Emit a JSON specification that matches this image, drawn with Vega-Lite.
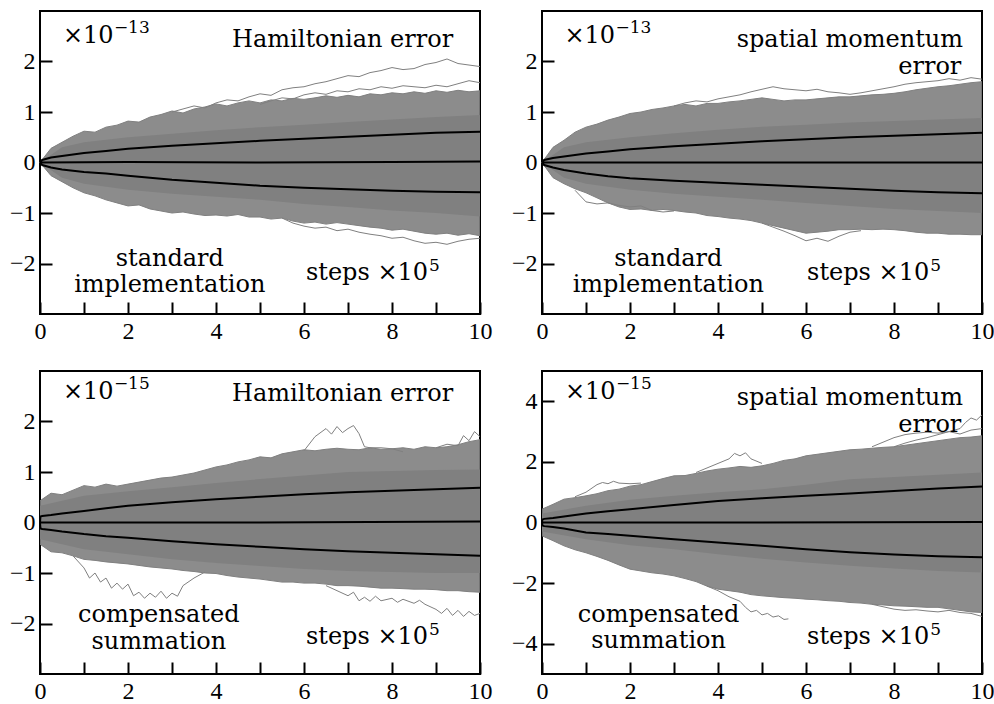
{
"$schema": "https://vega.github.io/schema/vega-lite/v6.json",
"background": "white",
"padding": {"left": 8, "top": 10, "right": 0, "bottom": 0},
"config": {
  "view": {"stroke": "#000", "strokeWidth": 2},
  "axis": {"domain": false, "grid": false, "ticks": true, "tickColor": "#000", "tickWidth": 2, "tickSize": -12, "labelFont": "Liberation Serif, Times New Roman, serif", "labelFontSize": 24, "labelColor": "#000", "labelFlush": false, "labelOverlap": false, "labelBound": false},
  "axisX": {"labelPadding": 17},
  "axisY": {"labelPadding": 17},
  "text": {"font": "DejaVu Serif, serif", "color": "#000", "baseline": "alphabetic"},
  "line": {"clip": true},
  "area": {"clip": true}
},
"columns": 2,
"spacing": {"row": 26, "column": 17},
"datasets": {
"tl": [
{"k":"e","x":0,"lo":0,"hi":0},{"k":"e","x":0.25,"lo":-0.26,"hi":0.28},{"k":"e","x":0.5,"lo":-0.38,"hi":0.40},{"k":"e","x":0.75,"lo":-0.50,"hi":0.52},{"k":"e","x":1,"lo":-0.60,"hi":0.62},{"k":"e","x":1.25,"lo":-0.66,"hi":0.60},{"k":"e","x":1.5,"lo":-0.74,"hi":0.70},{"k":"e","x":1.75,"lo":-0.80,"hi":0.74},{"k":"e","x":2,"lo":-0.86,"hi":0.82},{"k":"e","x":2.25,"lo":-0.84,"hi":0.80},{"k":"e","x":2.5,"lo":-0.92,"hi":0.90},{"k":"e","x":2.75,"lo":-0.96,"hi":0.95},{"k":"e","x":3,"lo":-1.00,"hi":1.02},{"k":"e","x":3.25,"lo":-0.98,"hi":0.98},{"k":"e","x":3.5,"lo":-1.02,"hi":1.06},{"k":"e","x":3.75,"lo":-1.05,"hi":1.10},{"k":"e","x":4,"lo":-1.04,"hi":1.16},{"k":"e","x":4.25,"lo":-1.06,"hi":1.12},{"k":"e","x":4.5,"lo":-1.03,"hi":1.18},{"k":"e","x":4.75,"lo":-1.08,"hi":1.22},{"k":"e","x":5,"lo":-1.08,"hi":1.18},{"k":"e","x":5.25,"lo":-1.12,"hi":1.24},{"k":"e","x":5.5,"lo":-1.10,"hi":1.22},{"k":"e","x":5.75,"lo":-1.16,"hi":1.27},{"k":"e","x":6,"lo":-1.20,"hi":1.25},{"k":"e","x":6.25,"lo":-1.18,"hi":1.28},{"k":"e","x":6.5,"lo":-1.22,"hi":1.32},{"k":"e","x":6.75,"lo":-1.19,"hi":1.29},{"k":"e","x":7,"lo":-1.22,"hi":1.33},{"k":"e","x":7.25,"lo":-1.25,"hi":1.30},{"k":"e","x":7.5,"lo":-1.28,"hi":1.36},{"k":"e","x":7.75,"lo":-1.30,"hi":1.34},{"k":"e","x":8,"lo":-1.34,"hi":1.38},{"k":"e","x":8.25,"lo":-1.32,"hi":1.36},{"k":"e","x":8.5,"lo":-1.36,"hi":1.40},{"k":"e","x":8.75,"lo":-1.40,"hi":1.37},{"k":"e","x":9,"lo":-1.42,"hi":1.42},{"k":"e","x":9.25,"lo":-1.40,"hi":1.39},{"k":"e","x":9.5,"lo":-1.44,"hi":1.43},{"k":"e","x":9.75,"lo":-1.41,"hi":1.40},{"k":"e","x":10,"lo":-1.45,"hi":1.42},
{"k":"c","x":0,"lo":0,"hi":0},{"k":"c","x":0.5,"lo":-0.3,"hi":0.3},{"k":"c","x":1,"lo":-0.42,"hi":0.4},{"k":"c","x":2,"lo":-0.54,"hi":0.5},{"k":"c","x":3,"lo":-0.62,"hi":0.57},{"k":"c","x":4,"lo":-0.68,"hi":0.64},{"k":"c","x":5,"lo":-0.74,"hi":0.7},{"k":"c","x":6,"lo":-0.82,"hi":0.75},{"k":"c","x":7,"lo":-0.88,"hi":0.8},{"k":"c","x":8,"lo":-0.95,"hi":0.85},{"k":"c","x":9,"lo":-1.0,"hi":0.9},{"k":"c","x":10,"lo":-1.07,"hi":0.94},
{"k":"o","id":"a","x":3,"y":1.00},{"k":"o","id":"a","x":3.25,"y":1.06},{"k":"o","id":"a","x":3.5,"y":1.12},{"k":"o","id":"a","x":3.75,"y":1.08},{"k":"o","id":"a","x":4,"y":1.18},{"k":"o","id":"a","x":4.25,"y":1.24},{"k":"o","id":"a","x":4.5,"y":1.22},{"k":"o","id":"a","x":4.75,"y":1.30},{"k":"o","id":"a","x":5,"y":1.36},{"k":"o","id":"a","x":5.25,"y":1.33},{"k":"o","id":"a","x":5.5,"y":1.44},{"k":"o","id":"a","x":5.75,"y":1.48},{"k":"o","id":"a","x":6,"y":1.50},{"k":"o","id":"a","x":6.25,"y":1.56},{"k":"o","id":"a","x":6.5,"y":1.60},{"k":"o","id":"a","x":6.75,"y":1.66},{"k":"o","id":"a","x":7,"y":1.72},{"k":"o","id":"a","x":7.25,"y":1.70},{"k":"o","id":"a","x":7.5,"y":1.78},{"k":"o","id":"a","x":7.75,"y":1.82},{"k":"o","id":"a","x":8,"y":1.88},{"k":"o","id":"a","x":8.25,"y":1.84},{"k":"o","id":"a","x":8.5,"y":1.86},{"k":"o","id":"a","x":8.75,"y":1.94},{"k":"o","id":"a","x":9,"y":1.98},{"k":"o","id":"a","x":9.25,"y":2.05},{"k":"o","id":"a","x":9.5,"y":1.96},{"k":"o","id":"a","x":9.75,"y":1.93},{"k":"o","id":"a","x":10,"y":1.90},
{"k":"o","id":"b","x":5,"y":1.15},{"k":"o","id":"b","x":5.25,"y":1.22},{"k":"o","id":"b","x":5.5,"y":1.28},{"k":"o","id":"b","x":5.75,"y":1.26},{"k":"o","id":"b","x":6,"y":1.34},{"k":"o","id":"b","x":6.25,"y":1.38},{"k":"o","id":"b","x":6.5,"y":1.35},{"k":"o","id":"b","x":6.75,"y":1.42},{"k":"o","id":"b","x":7,"y":1.40},{"k":"o","id":"b","x":7.25,"y":1.46},{"k":"o","id":"b","x":7.5,"y":1.44},{"k":"o","id":"b","x":7.75,"y":1.50},{"k":"o","id":"b","x":8,"y":1.47},{"k":"o","id":"b","x":8.25,"y":1.52},{"k":"o","id":"b","x":8.5,"y":1.50},{"k":"o","id":"b","x":8.75,"y":1.48},{"k":"o","id":"b","x":9,"y":1.53},{"k":"o","id":"b","x":9.25,"y":1.50},{"k":"o","id":"b","x":9.5,"y":1.56},{"k":"o","id":"b","x":9.75,"y":1.62},{"k":"o","id":"b","x":10,"y":1.58},
{"k":"o","id":"c","x":5.5,"y":-1.10},{"k":"o","id":"c","x":5.75,"y":-1.20},{"k":"o","id":"c","x":6,"y":-1.26},{"k":"o","id":"c","x":6.25,"y":-1.30},{"k":"o","id":"c","x":6.5,"y":-1.28},{"k":"o","id":"c","x":6.75,"y":-1.35},{"k":"o","id":"c","x":7,"y":-1.32},{"k":"o","id":"c","x":7.25,"y":-1.38},{"k":"o","id":"c","x":7.5,"y":-1.42},{"k":"o","id":"c","x":7.75,"y":-1.45},{"k":"o","id":"c","x":8,"y":-1.50},{"k":"o","id":"c","x":8.25,"y":-1.48},{"k":"o","id":"c","x":8.5,"y":-1.55},{"k":"o","id":"c","x":8.75,"y":-1.60},{"k":"o","id":"c","x":9,"y":-1.58},{"k":"o","id":"c","x":9.25,"y":-1.62},{"k":"o","id":"c","x":9.5,"y":-1.56},{"k":"o","id":"c","x":9.75,"y":-1.52},{"k":"o","id":"c","x":10,"y":-1.50},
{"k":"s","id":"up","x":0,"y":0},{"k":"s","id":"up","x":0.05,"y":0.05},{"k":"s","id":"up","x":0.25,"y":0.1},{"k":"s","id":"up","x":0.5,"y":0.13},{"k":"s","id":"up","x":1,"y":0.19},{"k":"s","id":"up","x":1.5,"y":0.23},{"k":"s","id":"up","x":2,"y":0.27},{"k":"s","id":"up","x":3,"y":0.33},{"k":"s","id":"up","x":4,"y":0.38},{"k":"s","id":"up","x":5,"y":0.43},{"k":"s","id":"up","x":6,"y":0.47},{"k":"s","id":"up","x":7,"y":0.51},{"k":"s","id":"up","x":8,"y":0.55},{"k":"s","id":"up","x":9,"y":0.59},{"k":"s","id":"up","x":10,"y":0.61},
{"k":"s","id":"dn","x":0,"y":0},{"k":"s","id":"dn","x":0.05,"y":-0.05},{"k":"s","id":"dn","x":0.25,"y":-0.1},{"k":"s","id":"dn","x":0.5,"y":-0.14},{"k":"s","id":"dn","x":1,"y":-0.19},{"k":"s","id":"dn","x":1.5,"y":-0.22},{"k":"s","id":"dn","x":2,"y":-0.26},{"k":"s","id":"dn","x":3,"y":-0.34},{"k":"s","id":"dn","x":4,"y":-0.4},{"k":"s","id":"dn","x":5,"y":-0.46},{"k":"s","id":"dn","x":6,"y":-0.5},{"k":"s","id":"dn","x":7,"y":-0.53},{"k":"s","id":"dn","x":8,"y":-0.56},{"k":"s","id":"dn","x":9,"y":-0.58},{"k":"s","id":"dn","x":10,"y":-0.59},
{"k":"s","id":"m","x":0,"y":0},{"k":"s","id":"m","x":2,"y":0.01},{"k":"s","id":"m","x":5,"y":0},{"k":"s","id":"m","x":8,"y":0.01},{"k":"s","id":"m","x":10,"y":0.02},
{"k":"L","x":0.52,"y":2.37,"t":"×10"},{"k":"P","x":0.52,"y":2.37,"t":"−13"},
{"k":"R","x":9.39,"y":2.29,"t":"Hamiltonian error"},{"k":"R","x":8.82,"y":-2.32,"t":"steps ×10"},{"k":"F","x":8.82,"y":-2.32,"t":"5"},
{"k":"C","x":2.95,"y":-2.05,"t":"standard"},{"k":"C","x":2.95,"y":-2.56,"t":"implementation"}
],
"tr": [
{"k":"e","x":0,"lo":0,"hi":0},{"k":"e","x":0.25,"lo":-0.30,"hi":0.30},{"k":"e","x":0.5,"lo":-0.42,"hi":0.44},{"k":"e","x":0.75,"lo":-0.52,"hi":0.60},{"k":"e","x":1,"lo":-0.60,"hi":0.70},{"k":"e","x":1.25,"lo":-0.70,"hi":0.76},{"k":"e","x":1.5,"lo":-0.80,"hi":0.84},{"k":"e","x":1.75,"lo":-0.88,"hi":0.90},{"k":"e","x":2,"lo":-0.93,"hi":0.97},{"k":"e","x":2.25,"lo":-0.92,"hi":1.00},{"k":"e","x":2.5,"lo":-0.95,"hi":1.05},{"k":"e","x":2.75,"lo":-0.93,"hi":1.08},{"k":"e","x":3,"lo":-0.95,"hi":1.12},{"k":"e","x":3.25,"lo":-0.98,"hi":1.15},{"k":"e","x":3.5,"lo":-1.00,"hi":1.12},{"k":"e","x":3.75,"lo":-1.05,"hi":1.17},{"k":"e","x":4,"lo":-1.07,"hi":1.17},{"k":"e","x":4.25,"lo":-1.10,"hi":1.20},{"k":"e","x":4.5,"lo":-1.12,"hi":1.22},{"k":"e","x":4.75,"lo":-1.15,"hi":1.25},{"k":"e","x":5,"lo":-1.20,"hi":1.28},{"k":"e","x":5.25,"lo":-1.25,"hi":1.25},{"k":"e","x":5.5,"lo":-1.30,"hi":1.22},{"k":"e","x":5.75,"lo":-1.35,"hi":1.24},{"k":"e","x":6,"lo":-1.40,"hi":1.24},{"k":"e","x":6.25,"lo":-1.38,"hi":1.26},{"k":"e","x":6.5,"lo":-1.36,"hi":1.28},{"k":"e","x":6.75,"lo":-1.33,"hi":1.30},{"k":"e","x":7,"lo":-1.33,"hi":1.30},{"k":"e","x":7.25,"lo":-1.32,"hi":1.32},{"k":"e","x":7.5,"lo":-1.33,"hi":1.34},{"k":"e","x":7.75,"lo":-1.32,"hi":1.35},{"k":"e","x":8,"lo":-1.33,"hi":1.37},{"k":"e","x":8.25,"lo":-1.35,"hi":1.40},{"k":"e","x":8.5,"lo":-1.38,"hi":1.44},{"k":"e","x":8.75,"lo":-1.40,"hi":1.47},{"k":"e","x":9,"lo":-1.40,"hi":1.50},{"k":"e","x":9.25,"lo":-1.42,"hi":1.52},{"k":"e","x":9.5,"lo":-1.42,"hi":1.55},{"k":"e","x":9.75,"lo":-1.43,"hi":1.58},{"k":"e","x":10,"lo":-1.43,"hi":1.60},
{"k":"c","x":0,"lo":0,"hi":0},{"k":"c","x":0.5,"lo":-0.3,"hi":0.3},{"k":"c","x":1,"lo":-0.42,"hi":0.4},{"k":"c","x":2,"lo":-0.54,"hi":0.5},{"k":"c","x":3,"lo":-0.62,"hi":0.58},{"k":"c","x":4,"lo":-0.68,"hi":0.65},{"k":"c","x":5,"lo":-0.74,"hi":0.71},{"k":"c","x":6,"lo":-0.8,"hi":0.75},{"k":"c","x":7,"lo":-0.86,"hi":0.79},{"k":"c","x":8,"lo":-0.92,"hi":0.82},{"k":"c","x":9,"lo":-0.96,"hi":0.85},{"k":"c","x":10,"lo":-1.0,"hi":0.88},
{"k":"o","id":"a","x":3,"y":1.12},{"k":"o","id":"a","x":3.25,"y":1.18},{"k":"o","id":"a","x":3.5,"y":1.22},{"k":"o","id":"a","x":3.75,"y":1.20},{"k":"o","id":"a","x":4,"y":1.26},{"k":"o","id":"a","x":4.25,"y":1.30},{"k":"o","id":"a","x":4.5,"y":1.34},{"k":"o","id":"a","x":4.75,"y":1.40},{"k":"o","id":"a","x":5,"y":1.45},{"k":"o","id":"a","x":5.25,"y":1.50},{"k":"o","id":"a","x":5.5,"y":1.46},{"k":"o","id":"a","x":5.75,"y":1.44},{"k":"o","id":"a","x":6,"y":1.42},{"k":"o","id":"a","x":6.25,"y":1.45},{"k":"o","id":"a","x":6.5,"y":1.40},{"k":"o","id":"a","x":6.75,"y":1.38},{"k":"o","id":"a","x":7,"y":1.35},{"k":"o","id":"a","x":7.25,"y":1.38},{"k":"o","id":"a","x":7.5,"y":1.42},{"k":"o","id":"a","x":7.75,"y":1.46},{"k":"o","id":"a","x":8,"y":1.50},{"k":"o","id":"a","x":8.25,"y":1.55},{"k":"o","id":"a","x":8.5,"y":1.58},{"k":"o","id":"a","x":8.75,"y":1.60},{"k":"o","id":"a","x":9,"y":1.62},{"k":"o","id":"a","x":9.25,"y":1.66},{"k":"o","id":"a","x":9.5,"y":1.63},{"k":"o","id":"a","x":9.75,"y":1.68},{"k":"o","id":"a","x":10,"y":1.65},
{"k":"o","id":"b","x":0.75,"y":-0.55},{"k":"o","id":"b","x":1,"y":-0.78},{"k":"o","id":"b","x":1.25,"y":-0.82},{"k":"o","id":"b","x":1.5,"y":-0.80},{"k":"o","id":"b","x":1.75,"y":-0.85},{"k":"o","id":"b","x":2,"y":-0.88},{"k":"o","id":"b","x":2.25,"y":-0.86},{"k":"o","id":"b","x":2.5,"y":-0.95},{"k":"o","id":"b","x":2.75,"y":-0.98},{"k":"o","id":"b","x":3,"y":-0.96},
{"k":"o","id":"c","x":5,"y":-1.20},{"k":"o","id":"c","x":5.25,"y":-1.28},{"k":"o","id":"c","x":5.5,"y":-1.36},{"k":"o","id":"c","x":5.75,"y":-1.45},{"k":"o","id":"c","x":6,"y":-1.55},{"k":"o","id":"c","x":6.25,"y":-1.50},{"k":"o","id":"c","x":6.5,"y":-1.56},{"k":"o","id":"c","x":6.75,"y":-1.46},{"k":"o","id":"c","x":7,"y":-1.38},{"k":"o","id":"c","x":7.25,"y":-1.35},
{"k":"s","id":"up","x":0,"y":0},{"k":"s","id":"up","x":0.05,"y":0.05},{"k":"s","id":"up","x":0.25,"y":0.09},{"k":"s","id":"up","x":0.5,"y":0.12},{"k":"s","id":"up","x":1,"y":0.18},{"k":"s","id":"up","x":1.5,"y":0.22},{"k":"s","id":"up","x":2,"y":0.26},{"k":"s","id":"up","x":3,"y":0.32},{"k":"s","id":"up","x":4,"y":0.37},{"k":"s","id":"up","x":5,"y":0.42},{"k":"s","id":"up","x":6,"y":0.46},{"k":"s","id":"up","x":7,"y":0.5},{"k":"s","id":"up","x":8,"y":0.53},{"k":"s","id":"up","x":9,"y":0.56},{"k":"s","id":"up","x":10,"y":0.59},
{"k":"s","id":"dn","x":0,"y":0},{"k":"s","id":"dn","x":0.05,"y":-0.05},{"k":"s","id":"dn","x":0.25,"y":-0.1},{"k":"s","id":"dn","x":0.5,"y":-0.15},{"k":"s","id":"dn","x":1,"y":-0.22},{"k":"s","id":"dn","x":1.5,"y":-0.27},{"k":"s","id":"dn","x":2,"y":-0.31},{"k":"s","id":"dn","x":3,"y":-0.36},{"k":"s","id":"dn","x":4,"y":-0.4},{"k":"s","id":"dn","x":5,"y":-0.44},{"k":"s","id":"dn","x":6,"y":-0.48},{"k":"s","id":"dn","x":7,"y":-0.52},{"k":"s","id":"dn","x":8,"y":-0.56},{"k":"s","id":"dn","x":9,"y":-0.59},{"k":"s","id":"dn","x":10,"y":-0.61},
{"k":"s","id":"m","x":0,"y":0},{"k":"s","id":"m","x":5,"y":0},{"k":"s","id":"m","x":10,"y":0},
{"k":"L","x":0.51,"y":2.37,"t":"×10"},{"k":"P","x":0.51,"y":2.37,"t":"−13"},
{"k":"R","x":9.57,"y":2.29,"t":"spatial momentum"},{"k":"R","x":9.53,"y":1.76,"t":"error"},{"k":"R","x":8.8,"y":-2.32,"t":"steps ×10"},{"k":"F","x":8.8,"y":-2.32,"t":"5"},
{"k":"C","x":2.87,"y":-2.05,"t":"standard"},{"k":"C","x":2.87,"y":-2.56,"t":"implementation"}
],
"bl": [
{"k":"e","x":0,"lo":-0.43,"hi":0.43},{"k":"e","x":0.25,"lo":-0.58,"hi":0.58},{"k":"e","x":0.5,"lo":-0.60,"hi":0.55},{"k":"e","x":0.75,"lo":-0.66,"hi":0.64},{"k":"e","x":1,"lo":-0.73,"hi":0.73},{"k":"e","x":1.25,"lo":-0.75,"hi":0.70},{"k":"e","x":1.5,"lo":-0.78,"hi":0.76},{"k":"e","x":1.75,"lo":-0.80,"hi":0.72},{"k":"e","x":2,"lo":-0.82,"hi":0.76},{"k":"e","x":2.25,"lo":-0.85,"hi":0.80},{"k":"e","x":2.5,"lo":-0.88,"hi":0.84},{"k":"e","x":2.75,"lo":-0.90,"hi":0.88},{"k":"e","x":3,"lo":-0.92,"hi":0.90},{"k":"e","x":3.25,"lo":-0.95,"hi":0.94},{"k":"e","x":3.5,"lo":-0.97,"hi":0.98},{"k":"e","x":3.75,"lo":-1.00,"hi":1.04},{"k":"e","x":4,"lo":-1.01,"hi":1.10},{"k":"e","x":4.25,"lo":-1.05,"hi":1.14},{"k":"e","x":4.5,"lo":-1.08,"hi":1.20},{"k":"e","x":4.75,"lo":-1.10,"hi":1.24},{"k":"e","x":5,"lo":-1.12,"hi":1.30},{"k":"e","x":5.25,"lo":-1.15,"hi":1.28},{"k":"e","x":5.5,"lo":-1.18,"hi":1.36},{"k":"e","x":5.75,"lo":-1.18,"hi":1.40},{"k":"e","x":6,"lo":-1.20,"hi":1.44},{"k":"e","x":6.25,"lo":-1.20,"hi":1.42},{"k":"e","x":6.5,"lo":-1.22,"hi":1.45},{"k":"e","x":6.75,"lo":-1.25,"hi":1.47},{"k":"e","x":7,"lo":-1.25,"hi":1.45},{"k":"e","x":7.25,"lo":-1.26,"hi":1.44},{"k":"e","x":7.5,"lo":-1.28,"hi":1.48},{"k":"e","x":7.75,"lo":-1.30,"hi":1.45},{"k":"e","x":8,"lo":-1.30,"hi":1.46},{"k":"e","x":8.25,"lo":-1.31,"hi":1.48},{"k":"e","x":8.5,"lo":-1.32,"hi":1.45},{"k":"e","x":8.75,"lo":-1.32,"hi":1.50},{"k":"e","x":9,"lo":-1.33,"hi":1.48},{"k":"e","x":9.25,"lo":-1.35,"hi":1.50},{"k":"e","x":9.5,"lo":-1.35,"hi":1.54},{"k":"e","x":9.75,"lo":-1.37,"hi":1.60},{"k":"e","x":10,"lo":-1.38,"hi":1.64},
{"k":"c","x":0,"lo":-0.33,"hi":0.33},{"k":"c","x":1,"lo":-0.53,"hi":0.53},{"k":"c","x":2,"lo":-0.63,"hi":0.62},{"k":"c","x":3,"lo":-0.73,"hi":0.7},{"k":"c","x":4,"lo":-0.8,"hi":0.78},{"k":"c","x":5,"lo":-0.86,"hi":0.86},{"k":"c","x":6,"lo":-0.92,"hi":0.93},{"k":"c","x":7,"lo":-0.96,"hi":1.0},{"k":"c","x":8,"lo":-0.98,"hi":1.02},{"k":"c","x":9,"lo":-1.0,"hi":1.04},{"k":"c","x":10,"lo":-1.0,"hi":1.05},
{"k":"o","id":"a","x":6,"y":1.42},{"k":"o","id":"a","x":6.25,"y":1.70},{"k":"o","id":"a","x":6.5,"y":1.86},{"k":"o","id":"a","x":6.625,"y":1.75},{"k":"o","id":"a","x":6.75,"y":1.90},{"k":"o","id":"a","x":6.875,"y":1.78},{"k":"o","id":"a","x":7,"y":1.86},{"k":"o","id":"a","x":7.125,"y":1.92},{"k":"o","id":"a","x":7.25,"y":1.76},{"k":"o","id":"a","x":7.375,"y":1.50},{"k":"o","id":"a","x":7.5,"y":1.48},{"k":"o","id":"a","x":7.75,"y":1.48},{"k":"o","id":"a","x":8,"y":1.46},{"k":"o","id":"a","x":8.25,"y":1.40},
{"k":"o","id":"b","x":0.75,"y":-0.66},{"k":"o","id":"b","x":1,"y":-0.90},{"k":"o","id":"b","x":1.125,"y":-1.10},{"k":"o","id":"b","x":1.25,"y":-1.00},{"k":"o","id":"b","x":1.375,"y":-1.18},{"k":"o","id":"b","x":1.5,"y":-1.10},{"k":"o","id":"b","x":1.625,"y":-1.30},{"k":"o","id":"b","x":1.75,"y":-1.20},{"k":"o","id":"b","x":1.875,"y":-1.32},{"k":"o","id":"b","x":2,"y":-1.22},{"k":"o","id":"b","x":2.125,"y":-1.45},{"k":"o","id":"b","x":2.25,"y":-1.38},{"k":"o","id":"b","x":2.375,"y":-1.50},{"k":"o","id":"b","x":2.5,"y":-1.40},{"k":"o","id":"b","x":2.625,"y":-1.48},{"k":"o","id":"b","x":2.75,"y":-1.36},{"k":"o","id":"b","x":2.875,"y":-1.50},{"k":"o","id":"b","x":3,"y":-1.40},{"k":"o","id":"b","x":3.125,"y":-1.46},{"k":"o","id":"b","x":3.25,"y":-1.25},{"k":"o","id":"b","x":3.5,"y":-1.10},{"k":"o","id":"b","x":3.75,"y":-0.98},
{"k":"o","id":"c","x":6.5,"y":-1.25},{"k":"o","id":"c","x":6.75,"y":-1.35},{"k":"o","id":"c","x":7,"y":-1.45},{"k":"o","id":"c","x":7.125,"y":-1.38},{"k":"o","id":"c","x":7.25,"y":-1.55},{"k":"o","id":"c","x":7.375,"y":-1.48},{"k":"o","id":"c","x":7.5,"y":-1.56},{"k":"o","id":"c","x":7.625,"y":-1.46},{"k":"o","id":"c","x":7.75,"y":-1.55},{"k":"o","id":"c","x":8,"y":-1.50},{"k":"o","id":"c","x":8.125,"y":-1.58},{"k":"o","id":"c","x":8.25,"y":-1.52},{"k":"o","id":"c","x":8.5,"y":-1.60},{"k":"o","id":"c","x":8.625,"y":-1.54},{"k":"o","id":"c","x":8.75,"y":-1.62},{"k":"o","id":"c","x":9,"y":-1.72},{"k":"o","id":"c","x":9.125,"y":-1.80},{"k":"o","id":"c","x":9.25,"y":-1.70},{"k":"o","id":"c","x":9.375,"y":-1.84},{"k":"o","id":"c","x":9.5,"y":-1.74},{"k":"o","id":"c","x":9.625,"y":-1.86},{"k":"o","id":"c","x":9.75,"y":-1.76},{"k":"o","id":"c","x":9.875,"y":-1.84},{"k":"o","id":"c","x":10,"y":-1.80},
{"k":"o","id":"d","x":9,"y":1.48},{"k":"o","id":"d","x":9.25,"y":1.55},{"k":"o","id":"d","x":9.5,"y":1.52},{"k":"o","id":"d","x":9.625,"y":1.72},{"k":"o","id":"d","x":9.75,"y":1.62},{"k":"o","id":"d","x":9.875,"y":1.80},{"k":"o","id":"d","x":10,"y":1.70},
{"k":"s","id":"up","x":0,"y":0},{"k":"s","id":"up","x":0.01,"y":0.12},{"k":"s","id":"up","x":0.05,"y":0.13},{"k":"s","id":"up","x":0.25,"y":0.15},{"k":"s","id":"up","x":0.5,"y":0.18},{"k":"s","id":"up","x":1,"y":0.23},{"k":"s","id":"up","x":1.5,"y":0.28},{"k":"s","id":"up","x":2,"y":0.33},{"k":"s","id":"up","x":3,"y":0.40},{"k":"s","id":"up","x":4,"y":0.46},{"k":"s","id":"up","x":5,"y":0.51},{"k":"s","id":"up","x":6,"y":0.56},{"k":"s","id":"up","x":7,"y":0.60},{"k":"s","id":"up","x":8,"y":0.63},{"k":"s","id":"up","x":9,"y":0.66},{"k":"s","id":"up","x":10,"y":0.69},
{"k":"s","id":"dn","x":0,"y":0},{"k":"s","id":"dn","x":0.01,"y":-0.12},{"k":"s","id":"dn","x":0.05,"y":-0.13},{"k":"s","id":"dn","x":0.25,"y":-0.15},{"k":"s","id":"dn","x":0.5,"y":-0.18},{"k":"s","id":"dn","x":1,"y":-0.23},{"k":"s","id":"dn","x":1.5,"y":-0.27},{"k":"s","id":"dn","x":2,"y":-0.30},{"k":"s","id":"dn","x":3,"y":-0.37},{"k":"s","id":"dn","x":4,"y":-0.43},{"k":"s","id":"dn","x":5,"y":-0.48},{"k":"s","id":"dn","x":6,"y":-0.53},{"k":"s","id":"dn","x":7,"y":-0.57},{"k":"s","id":"dn","x":8,"y":-0.60},{"k":"s","id":"dn","x":9,"y":-0.63},{"k":"s","id":"dn","x":10,"y":-0.66},
{"k":"s","id":"m","x":0,"y":0},{"k":"s","id":"m","x":5,"y":0},{"k":"s","id":"m","x":10,"y":0.02},
{"k":"L","x":0.52,"y":2.45,"t":"×10"},{"k":"P","x":0.52,"y":2.45,"t":"−15"},
{"k":"R","x":9.39,"y":2.41,"t":"Hamiltonian error"},{"k":"R","x":8.82,"y":-2.4,"t":"steps ×10"},{"k":"F","x":8.82,"y":-2.4,"t":"5"},
{"k":"C","x":2.7,"y":-1.97,"t":"compensated"},{"k":"C","x":2.7,"y":-2.5,"t":"summation"}
],
"br": [
{"k":"e","x":0,"lo":-0.44,"hi":0.44},{"k":"e","x":0.25,"lo":-0.60,"hi":0.60},{"k":"e","x":0.5,"lo":-0.77,"hi":0.77},{"k":"e","x":0.75,"lo":-0.90,"hi":0.82},{"k":"e","x":1,"lo":-1.00,"hi":0.88},{"k":"e","x":1.25,"lo":-1.12,"hi":0.95},{"k":"e","x":1.5,"lo":-1.25,"hi":1.05},{"k":"e","x":1.75,"lo":-1.40,"hi":1.10},{"k":"e","x":2,"lo":-1.54,"hi":1.20},{"k":"e","x":2.25,"lo":-1.60,"hi":1.25},{"k":"e","x":2.5,"lo":-1.66,"hi":1.35},{"k":"e","x":2.75,"lo":-1.70,"hi":1.45},{"k":"e","x":3,"lo":-1.76,"hi":1.54},{"k":"e","x":3.25,"lo":-1.85,"hi":1.55},{"k":"e","x":3.5,"lo":-1.95,"hi":1.62},{"k":"e","x":3.75,"lo":-2.10,"hi":1.70},{"k":"e","x":4,"lo":-2.20,"hi":1.76},{"k":"e","x":4.25,"lo":-2.25,"hi":1.80},{"k":"e","x":4.5,"lo":-2.30,"hi":1.85},{"k":"e","x":4.75,"lo":-2.38,"hi":1.82},{"k":"e","x":5,"lo":-2.42,"hi":1.87},{"k":"e","x":5.25,"lo":-2.45,"hi":1.95},{"k":"e","x":5.5,"lo":-2.48,"hi":2.05},{"k":"e","x":5.75,"lo":-2.50,"hi":2.10},{"k":"e","x":6,"lo":-2.53,"hi":2.20},{"k":"e","x":6.25,"lo":-2.55,"hi":2.25},{"k":"e","x":6.5,"lo":-2.58,"hi":2.30},{"k":"e","x":6.75,"lo":-2.60,"hi":2.35},{"k":"e","x":7,"lo":-2.64,"hi":2.40},{"k":"e","x":7.25,"lo":-2.66,"hi":2.42},{"k":"e","x":7.5,"lo":-2.70,"hi":2.45},{"k":"e","x":7.75,"lo":-2.72,"hi":2.48},{"k":"e","x":8,"lo":-2.75,"hi":2.50},{"k":"e","x":8.25,"lo":-2.76,"hi":2.55},{"k":"e","x":8.5,"lo":-2.78,"hi":2.60},{"k":"e","x":8.75,"lo":-2.80,"hi":2.65},{"k":"e","x":9,"lo":-2.80,"hi":2.70},{"k":"e","x":9.25,"lo":-2.85,"hi":2.75},{"k":"e","x":9.5,"lo":-2.90,"hi":2.80},{"k":"e","x":9.75,"lo":-2.95,"hi":2.82},{"k":"e","x":10,"lo":-2.97,"hi":2.86},
{"k":"c","x":0,"lo":-0.3,"hi":0.3},{"k":"c","x":1,"lo":-0.55,"hi":0.55},{"k":"c","x":2,"lo":-0.75,"hi":0.75},{"k":"c","x":3,"lo":-0.88,"hi":0.88},{"k":"c","x":4,"lo":-1.05,"hi":1.0},{"k":"c","x":5,"lo":-1.2,"hi":1.1},{"k":"c","x":6,"lo":-1.32,"hi":1.25},{"k":"c","x":7,"lo":-1.43,"hi":1.43},{"k":"c","x":8,"lo":-1.52,"hi":1.5},{"k":"c","x":9,"lo":-1.6,"hi":1.58},{"k":"c","x":10,"lo":-1.65,"hi":1.65},
{"k":"o","id":"a","x":8,"y":2.5},{"k":"o","id":"a","x":8.25,"y":2.62},{"k":"o","id":"a","x":8.5,"y":2.72},{"k":"o","id":"a","x":8.75,"y":2.8},{"k":"o","id":"a","x":9,"y":2.9},{"k":"o","id":"a","x":9.25,"y":3.0},{"k":"o","id":"a","x":9.5,"y":3.1},{"k":"o","id":"a","x":9.625,"y":3.3},{"k":"o","id":"a","x":9.75,"y":3.45},{"k":"o","id":"a","x":9.875,"y":3.38},{"k":"o","id":"a","x":10,"y":3.55},
{"k":"o","id":"b","x":7.5,"y":2.5},{"k":"o","id":"b","x":7.75,"y":2.65},{"k":"o","id":"b","x":8,"y":2.8},{"k":"o","id":"b","x":8.25,"y":2.9},{"k":"o","id":"b","x":8.5,"y":2.95},{"k":"o","id":"b","x":8.75,"y":2.98},{"k":"o","id":"b","x":9,"y":2.95},{"k":"o","id":"b","x":9.25,"y":3.0},{"k":"o","id":"b","x":9.5,"y":2.92},{"k":"o","id":"b","x":9.75,"y":3.05},{"k":"o","id":"b","x":10,"y":3.1},
{"k":"o","id":"c","x":0.75,"y":0.85},{"k":"o","id":"c","x":1,"y":1.0},{"k":"o","id":"c","x":1.25,"y":1.25},{"k":"o","id":"c","x":1.375,"y":1.32},{"k":"o","id":"c","x":1.5,"y":1.28},{"k":"o","id":"c","x":1.625,"y":1.36},{"k":"o","id":"c","x":1.75,"y":1.3},{"k":"o","id":"c","x":2,"y":1.28},{"k":"o","id":"c","x":2.25,"y":1.3},
{"k":"o","id":"d","x":3.5,"y":1.65},{"k":"o","id":"d","x":3.75,"y":1.8},{"k":"o","id":"d","x":4,"y":1.95},{"k":"o","id":"d","x":4.25,"y":2.1},{"k":"o","id":"d","x":4.375,"y":2.28},{"k":"o","id":"d","x":4.5,"y":2.2},{"k":"o","id":"d","x":4.625,"y":2.3},{"k":"o","id":"d","x":4.75,"y":2.1},{"k":"o","id":"d","x":5,"y":1.95},
{"k":"o","id":"e","x":3.75,"y":-2.1},{"k":"o","id":"e","x":4,"y":-2.25},{"k":"o","id":"e","x":4.25,"y":-2.45},{"k":"o","id":"e","x":4.5,"y":-2.6},{"k":"o","id":"e","x":4.625,"y":-2.8},{"k":"o","id":"e","x":4.75,"y":-2.95},{"k":"o","id":"e","x":4.875,"y":-2.9},{"k":"o","id":"e","x":5,"y":-3.05},{"k":"o","id":"e","x":5.125,"y":-3.0},{"k":"o","id":"e","x":5.25,"y":-3.12},{"k":"o","id":"e","x":5.375,"y":-3.08},{"k":"o","id":"e","x":5.5,"y":-3.2},{"k":"o","id":"e","x":5.6,"y":-3.18},
{"k":"o","id":"f","x":7.5,"y":-2.7},{"k":"o","id":"f","x":7.75,"y":-2.78},{"k":"o","id":"f","x":8,"y":-2.86},{"k":"o","id":"f","x":8.25,"y":-2.9},{"k":"o","id":"f","x":8.5,"y":-2.88},{"k":"o","id":"f","x":8.75,"y":-2.92},{"k":"o","id":"f","x":9,"y":-2.95},{"k":"o","id":"f","x":9.25,"y":-2.9},{"k":"o","id":"f","x":9.5,"y":-2.97},{"k":"o","id":"f","x":9.75,"y":-3.0},{"k":"o","id":"f","x":10,"y":-3.1},
{"k":"s","id":"up","x":0,"y":0},{"k":"s","id":"up","x":0.01,"y":0.1},{"k":"s","id":"up","x":0.05,"y":0.12},{"k":"s","id":"up","x":0.25,"y":0.15},{"k":"s","id":"up","x":0.5,"y":0.2},{"k":"s","id":"up","x":1,"y":0.3},{"k":"s","id":"up","x":1.5,"y":0.37},{"k":"s","id":"up","x":2,"y":0.44},{"k":"s","id":"up","x":3,"y":0.58},{"k":"s","id":"up","x":4,"y":0.71},{"k":"s","id":"up","x":5,"y":0.8},{"k":"s","id":"up","x":6,"y":0.88},{"k":"s","id":"up","x":7,"y":0.96},{"k":"s","id":"up","x":8,"y":1.04},{"k":"s","id":"up","x":9,"y":1.12},{"k":"s","id":"up","x":10,"y":1.19},
{"k":"s","id":"dn","x":0,"y":0},{"k":"s","id":"dn","x":0.01,"y":-0.1},{"k":"s","id":"dn","x":0.05,"y":-0.12},{"k":"s","id":"dn","x":0.25,"y":-0.15},{"k":"s","id":"dn","x":0.5,"y":-0.2},{"k":"s","id":"dn","x":1,"y":-0.33},{"k":"s","id":"dn","x":1.5,"y":-0.38},{"k":"s","id":"dn","x":2,"y":-0.44},{"k":"s","id":"dn","x":3,"y":-0.55},{"k":"s","id":"dn","x":4,"y":-0.66},{"k":"s","id":"dn","x":5,"y":-0.77},{"k":"s","id":"dn","x":6,"y":-0.88},{"k":"s","id":"dn","x":7,"y":-0.98},{"k":"s","id":"dn","x":8,"y":-1.06},{"k":"s","id":"dn","x":9,"y":-1.11},{"k":"s","id":"dn","x":10,"y":-1.15},
{"k":"s","id":"m","x":0,"y":0},{"k":"s","id":"m","x":5,"y":0},{"k":"s","id":"m","x":10,"y":0.02},
{"k":"L","x":0.52,"y":4.08,"t":"×10"},{"k":"P","x":0.52,"y":4.08,"t":"−15"},
{"k":"R","x":9.57,"y":3.88,"t":"spatial momentum"},{"k":"R","x":9.53,"y":2.99,"t":"error"},{"k":"R","x":8.8,"y":-4.0,"t":"steps ×10"},{"k":"F","x":8.8,"y":-4.0,"t":"5"},
{"k":"C","x":2.65,"y":-3.3,"t":"compensated"},{"k":"C","x":2.65,"y":-4.15,"t":"summation"}
]
},
"concat": [
{"width":440,"height":303,"data":{"name":"tl"},"layer":[
 {"transform":[{"filter":"datum.k==='e'"}],"mark":{"type":"area","color":"#808080","opacity":0.9},"encoding":{"x":{"field":"x","type":"quantitative","title":null,"scale":{"domain":[0,10],"nice":false,"zero":false},"axis":{"title":null,"values":[0,1,2,3,4,5,6,7,8,9,10],"labelExpr":"datum.value % 2 === 0 ? datum.label : ''","labelFont":"Liberation Serif, Times New Roman, serif","labelFontSize":24}},"y":{"field":"lo","type":"quantitative","title":null,"scale":{"domain":[-3,3],"nice":false,"zero":false},"axis":{"title":null,"values":[-2,-1,0,1,2],"labelFont":"Liberation Serif, Times New Roman, serif","labelFontSize":24}},"y2":{"field":"hi"}}},
 {"transform":[{"filter":"datum.k==='e'"}],"mark":{"type":"line","color":"#808080","strokeWidth":1},"encoding":{"x":{"field":"x","type":"quantitative","title":null},"y":{"field":"hi","type":"quantitative","title":null}}},
 {"transform":[{"filter":"datum.k==='e'"}],"mark":{"type":"line","color":"#808080","strokeWidth":1},"encoding":{"x":{"field":"x","type":"quantitative","title":null},"y":{"field":"lo","type":"quantitative","title":null}}},
 {"transform":[{"filter":"datum.k==='c'"}],"mark":{"type":"area","color":"#808080","opacity":1},"encoding":{"x":{"field":"x","type":"quantitative","title":null},"y":{"field":"lo","type":"quantitative","title":null},"y2":{"field":"hi"}}},
 {"transform":[{"filter":"datum.k==='o'"}],"mark":{"type":"line","color":"#808080","strokeWidth":1},"encoding":{"x":{"field":"x","type":"quantitative","title":null},"y":{"field":"y","type":"quantitative","title":null},"detail":{"field":"id"}}},
 {"transform":[{"filter":"datum.k==='s'"}],"mark":{"type":"line","color":"#000","strokeWidth":2},"encoding":{"x":{"field":"x","type":"quantitative","title":null},"y":{"field":"y","type":"quantitative","title":null},"detail":{"field":"id"}}},
 {"transform":[{"filter":"datum.k==='L'"}],"mark":{"type":"text","font":"DejaVu Serif, serif","fontSize":24,"align":"left","baseline":"alphabetic","color":"#000"},"encoding":{"x":{"field":"x","type":"quantitative","title":null},"y":{"field":"y","type":"quantitative","title":null},"text":{"field":"t"}}},
 {"transform":[{"filter":"datum.k==='P'"}],"mark":{"type":"text","font":"DejaVu Serif, serif","fontSize":17,"align":"left","baseline":"alphabetic","color":"#000","dx":51,"dy":-10},"encoding":{"x":{"field":"x","type":"quantitative","title":null},"y":{"field":"y","type":"quantitative","title":null},"text":{"field":"t"}}},
 {"transform":[{"filter":"datum.k==='F'"}],"mark":{"type":"text","font":"DejaVu Serif, serif","fontSize":17,"align":"left","baseline":"alphabetic","color":"#000","dx":1,"dy":-9},"encoding":{"x":{"field":"x","type":"quantitative","title":null},"y":{"field":"y","type":"quantitative","title":null},"text":{"field":"t"}}},
 {"transform":[{"filter":"datum.k==='R'"}],"mark":{"type":"text","font":"DejaVu Serif, serif","fontSize":24,"align":"right","baseline":"alphabetic","color":"#000"},"encoding":{"x":{"field":"x","type":"quantitative","title":null},"y":{"field":"y","type":"quantitative","title":null},"text":{"field":"t"}}},
 {"transform":[{"filter":"datum.k==='C'"}],"mark":{"type":"text","font":"DejaVu Serif, serif","fontSize":24,"align":"center","baseline":"alphabetic","color":"#000"},"encoding":{"x":{"field":"x","type":"quantitative","title":null},"y":{"field":"y","type":"quantitative","title":null},"text":{"field":"t"}}}
]},
{"width":440,"height":303,"data":{"name":"tr"},"layer":[
 {"transform":[{"filter":"datum.k==='e'"}],"mark":{"type":"area","color":"#808080","opacity":0.9},"encoding":{"x":{"field":"x","type":"quantitative","title":null,"scale":{"domain":[0,10],"nice":false,"zero":false},"axis":{"title":null,"values":[0,1,2,3,4,5,6,7,8,9,10],"labelExpr":"datum.value % 2 === 0 ? datum.label : ''","labelFont":"Liberation Serif, Times New Roman, serif","labelFontSize":24}},"y":{"field":"lo","type":"quantitative","title":null,"scale":{"domain":[-3,3],"nice":false,"zero":false},"axis":{"title":null,"values":[-2,-1,0,1,2],"labelFont":"Liberation Serif, Times New Roman, serif","labelFontSize":24}},"y2":{"field":"hi"}}},
 {"transform":[{"filter":"datum.k==='e'"}],"mark":{"type":"line","color":"#808080","strokeWidth":1},"encoding":{"x":{"field":"x","type":"quantitative","title":null},"y":{"field":"hi","type":"quantitative","title":null}}},
 {"transform":[{"filter":"datum.k==='e'"}],"mark":{"type":"line","color":"#808080","strokeWidth":1},"encoding":{"x":{"field":"x","type":"quantitative","title":null},"y":{"field":"lo","type":"quantitative","title":null}}},
 {"transform":[{"filter":"datum.k==='c'"}],"mark":{"type":"area","color":"#808080","opacity":1},"encoding":{"x":{"field":"x","type":"quantitative","title":null},"y":{"field":"lo","type":"quantitative","title":null},"y2":{"field":"hi"}}},
 {"transform":[{"filter":"datum.k==='o'"}],"mark":{"type":"line","color":"#808080","strokeWidth":1},"encoding":{"x":{"field":"x","type":"quantitative","title":null},"y":{"field":"y","type":"quantitative","title":null},"detail":{"field":"id"}}},
 {"transform":[{"filter":"datum.k==='s'"}],"mark":{"type":"line","color":"#000","strokeWidth":2},"encoding":{"x":{"field":"x","type":"quantitative","title":null},"y":{"field":"y","type":"quantitative","title":null},"detail":{"field":"id"}}},
 {"transform":[{"filter":"datum.k==='L'"}],"mark":{"type":"text","font":"DejaVu Serif, serif","fontSize":24,"align":"left","baseline":"alphabetic","color":"#000"},"encoding":{"x":{"field":"x","type":"quantitative","title":null},"y":{"field":"y","type":"quantitative","title":null},"text":{"field":"t"}}},
 {"transform":[{"filter":"datum.k==='P'"}],"mark":{"type":"text","font":"DejaVu Serif, serif","fontSize":17,"align":"left","baseline":"alphabetic","color":"#000","dx":51,"dy":-10},"encoding":{"x":{"field":"x","type":"quantitative","title":null},"y":{"field":"y","type":"quantitative","title":null},"text":{"field":"t"}}},
 {"transform":[{"filter":"datum.k==='F'"}],"mark":{"type":"text","font":"DejaVu Serif, serif","fontSize":17,"align":"left","baseline":"alphabetic","color":"#000","dx":1,"dy":-9},"encoding":{"x":{"field":"x","type":"quantitative","title":null},"y":{"field":"y","type":"quantitative","title":null},"text":{"field":"t"}}},
 {"transform":[{"filter":"datum.k==='R'"}],"mark":{"type":"text","font":"DejaVu Serif, serif","fontSize":24,"align":"right","baseline":"alphabetic","color":"#000"},"encoding":{"x":{"field":"x","type":"quantitative","title":null},"y":{"field":"y","type":"quantitative","title":null},"text":{"field":"t"}}},
 {"transform":[{"filter":"datum.k==='C'"}],"mark":{"type":"text","font":"DejaVu Serif, serif","fontSize":24,"align":"center","baseline":"alphabetic","color":"#000"},"encoding":{"x":{"field":"x","type":"quantitative","title":null},"y":{"field":"y","type":"quantitative","title":null},"text":{"field":"t"}}}
]},
{"width":440,"height":303,"data":{"name":"bl"},"layer":[
 {"transform":[{"filter":"datum.k==='e'"}],"mark":{"type":"area","color":"#808080","opacity":0.9},"encoding":{"x":{"field":"x","type":"quantitative","title":null,"scale":{"domain":[0,10],"nice":false,"zero":false},"axis":{"title":null,"values":[0,1,2,3,4,5,6,7,8,9,10],"labelExpr":"datum.value % 2 === 0 ? datum.label : ''","labelFont":"Liberation Serif, Times New Roman, serif","labelFontSize":24}},"y":{"field":"lo","type":"quantitative","title":null,"scale":{"domain":[-3,3],"nice":false,"zero":false},"axis":{"title":null,"values":[-2,-1,0,1,2],"labelFont":"Liberation Serif, Times New Roman, serif","labelFontSize":24}},"y2":{"field":"hi"}}},
 {"transform":[{"filter":"datum.k==='e'"}],"mark":{"type":"line","color":"#808080","strokeWidth":1},"encoding":{"x":{"field":"x","type":"quantitative","title":null},"y":{"field":"hi","type":"quantitative","title":null}}},
 {"transform":[{"filter":"datum.k==='e'"}],"mark":{"type":"line","color":"#808080","strokeWidth":1},"encoding":{"x":{"field":"x","type":"quantitative","title":null},"y":{"field":"lo","type":"quantitative","title":null}}},
 {"transform":[{"filter":"datum.k==='c'"}],"mark":{"type":"area","color":"#808080","opacity":1},"encoding":{"x":{"field":"x","type":"quantitative","title":null},"y":{"field":"lo","type":"quantitative","title":null},"y2":{"field":"hi"}}},
 {"transform":[{"filter":"datum.k==='o'"}],"mark":{"type":"line","color":"#808080","strokeWidth":1},"encoding":{"x":{"field":"x","type":"quantitative","title":null},"y":{"field":"y","type":"quantitative","title":null},"detail":{"field":"id"}}},
 {"transform":[{"filter":"datum.k==='s'"}],"mark":{"type":"line","color":"#000","strokeWidth":2},"encoding":{"x":{"field":"x","type":"quantitative","title":null},"y":{"field":"y","type":"quantitative","title":null},"detail":{"field":"id"}}},
 {"transform":[{"filter":"datum.k==='L'"}],"mark":{"type":"text","font":"DejaVu Serif, serif","fontSize":24,"align":"left","baseline":"alphabetic","color":"#000"},"encoding":{"x":{"field":"x","type":"quantitative","title":null},"y":{"field":"y","type":"quantitative","title":null},"text":{"field":"t"}}},
 {"transform":[{"filter":"datum.k==='P'"}],"mark":{"type":"text","font":"DejaVu Serif, serif","fontSize":17,"align":"left","baseline":"alphabetic","color":"#000","dx":51,"dy":-10},"encoding":{"x":{"field":"x","type":"quantitative","title":null},"y":{"field":"y","type":"quantitative","title":null},"text":{"field":"t"}}},
 {"transform":[{"filter":"datum.k==='F'"}],"mark":{"type":"text","font":"DejaVu Serif, serif","fontSize":17,"align":"left","baseline":"alphabetic","color":"#000","dx":1,"dy":-9},"encoding":{"x":{"field":"x","type":"quantitative","title":null},"y":{"field":"y","type":"quantitative","title":null},"text":{"field":"t"}}},
 {"transform":[{"filter":"datum.k==='R'"}],"mark":{"type":"text","font":"DejaVu Serif, serif","fontSize":24,"align":"right","baseline":"alphabetic","color":"#000"},"encoding":{"x":{"field":"x","type":"quantitative","title":null},"y":{"field":"y","type":"quantitative","title":null},"text":{"field":"t"}}},
 {"transform":[{"filter":"datum.k==='C'"}],"mark":{"type":"text","font":"DejaVu Serif, serif","fontSize":24,"align":"center","baseline":"alphabetic","color":"#000"},"encoding":{"x":{"field":"x","type":"quantitative","title":null},"y":{"field":"y","type":"quantitative","title":null},"text":{"field":"t"}}}
]},
{"width":440,"height":303,"data":{"name":"br"},"layer":[
 {"transform":[{"filter":"datum.k==='e'"}],"mark":{"type":"area","color":"#808080","opacity":0.9},"encoding":{"x":{"field":"x","type":"quantitative","title":null,"scale":{"domain":[0,10],"nice":false,"zero":false},"axis":{"title":null,"values":[0,1,2,3,4,5,6,7,8,9,10],"labelExpr":"datum.value % 2 === 0 ? datum.label : ''","labelFont":"Liberation Serif, Times New Roman, serif","labelFontSize":24}},"y":{"field":"lo","type":"quantitative","title":null,"scale":{"domain":[-5,5],"nice":false,"zero":false},"axis":{"title":null,"values":[-4,-3,-2,-1,0,1,2,3,4],"labelExpr":"datum.value % 2 === 0 ? datum.label : ''","labelFont":"Liberation Serif, Times New Roman, serif","labelFontSize":24}},"y2":{"field":"hi"}}},
 {"transform":[{"filter":"datum.k==='e'"}],"mark":{"type":"line","color":"#808080","strokeWidth":1},"encoding":{"x":{"field":"x","type":"quantitative","title":null},"y":{"field":"hi","type":"quantitative","title":null}}},
 {"transform":[{"filter":"datum.k==='e'"}],"mark":{"type":"line","color":"#808080","strokeWidth":1},"encoding":{"x":{"field":"x","type":"quantitative","title":null},"y":{"field":"lo","type":"quantitative","title":null}}},
 {"transform":[{"filter":"datum.k==='c'"}],"mark":{"type":"area","color":"#808080","opacity":1},"encoding":{"x":{"field":"x","type":"quantitative","title":null},"y":{"field":"lo","type":"quantitative","title":null},"y2":{"field":"hi"}}},
 {"transform":[{"filter":"datum.k==='o'"}],"mark":{"type":"line","color":"#808080","strokeWidth":1},"encoding":{"x":{"field":"x","type":"quantitative","title":null},"y":{"field":"y","type":"quantitative","title":null},"detail":{"field":"id"}}},
 {"transform":[{"filter":"datum.k==='s'"}],"mark":{"type":"line","color":"#000","strokeWidth":2},"encoding":{"x":{"field":"x","type":"quantitative","title":null},"y":{"field":"y","type":"quantitative","title":null},"detail":{"field":"id"}}},
 {"transform":[{"filter":"datum.k==='L'"}],"mark":{"type":"text","font":"DejaVu Serif, serif","fontSize":24,"align":"left","baseline":"alphabetic","color":"#000"},"encoding":{"x":{"field":"x","type":"quantitative","title":null},"y":{"field":"y","type":"quantitative","title":null},"text":{"field":"t"}}},
 {"transform":[{"filter":"datum.k==='P'"}],"mark":{"type":"text","font":"DejaVu Serif, serif","fontSize":17,"align":"left","baseline":"alphabetic","color":"#000","dx":51,"dy":-10},"encoding":{"x":{"field":"x","type":"quantitative","title":null},"y":{"field":"y","type":"quantitative","title":null},"text":{"field":"t"}}},
 {"transform":[{"filter":"datum.k==='F'"}],"mark":{"type":"text","font":"DejaVu Serif, serif","fontSize":17,"align":"left","baseline":"alphabetic","color":"#000","dx":1,"dy":-9},"encoding":{"x":{"field":"x","type":"quantitative","title":null},"y":{"field":"y","type":"quantitative","title":null},"text":{"field":"t"}}},
 {"transform":[{"filter":"datum.k==='R'"}],"mark":{"type":"text","font":"DejaVu Serif, serif","fontSize":24,"align":"right","baseline":"alphabetic","color":"#000"},"encoding":{"x":{"field":"x","type":"quantitative","title":null},"y":{"field":"y","type":"quantitative","title":null},"text":{"field":"t"}}},
 {"transform":[{"filter":"datum.k==='C'"}],"mark":{"type":"text","font":"DejaVu Serif, serif","fontSize":24,"align":"center","baseline":"alphabetic","color":"#000"},"encoding":{"x":{"field":"x","type":"quantitative","title":null},"y":{"field":"y","type":"quantitative","title":null},"text":{"field":"t"}}}
]}
]
}
